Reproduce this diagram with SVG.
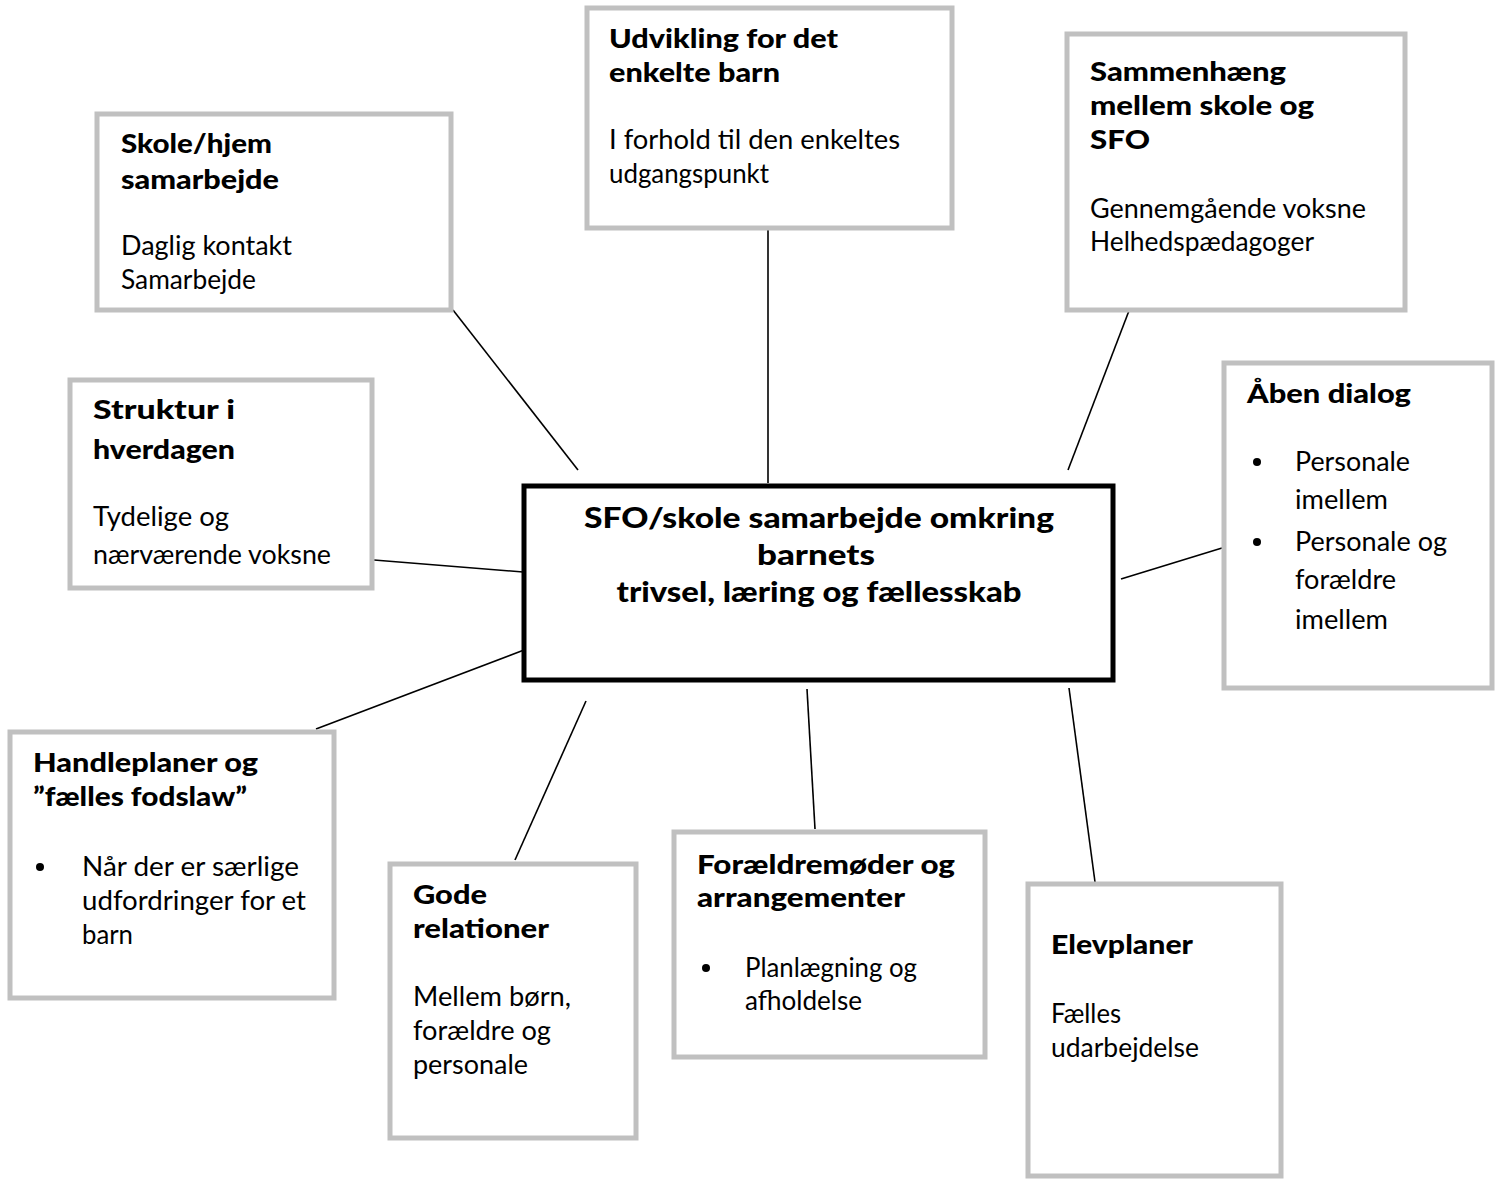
<svg xmlns="http://www.w3.org/2000/svg" width="1503" height="1180" viewBox="0 0 1503 1180">
<style>
.box{fill:#fff;stroke:#c0c0c0;stroke-width:5}
.main{fill:#fff;stroke:#000;stroke-width:5}
text{font-family:Lato,"Liberation Sans",sans-serif;font-size:27px;fill:#000}
.b{font-weight:900}
.c{text-anchor:middle;font-size:29px}
.conn line{stroke:#000;stroke-width:1.6}
</style>
<rect width="1503" height="1180" fill="#fff"/>
<g class="conn">
<line x1="453" y1="310" x2="578" y2="470"/>
<line x1="768" y1="230" x2="768" y2="483"/>
<line x1="1140" y1="282" x2="1068" y2="470"/>
<line x1="374" y1="560" x2="523" y2="572"/>
<line x1="1121" y1="579" x2="1222" y2="548"/>
<line x1="316" y1="729" x2="524" y2="650"/>
<line x1="515" y1="860" x2="586" y2="701"/>
<line x1="807" y1="689" x2="815" y2="829"/>
<line x1="1069" y1="688" x2="1095" y2="882"/>
</g>
<g id="center">
<rect class="main" x="524" y="486" width="589" height="194"/>
<text class="b c" x="819" y="528" textLength="470" lengthAdjust="spacingAndGlyphs">SFO/skole samarbejde omkring</text>
<text class="b c" x="816" y="565" textLength="118" lengthAdjust="spacingAndGlyphs">barnets</text>
<text class="b c" x="819" y="602" textLength="405" lengthAdjust="spacingAndGlyphs">trivsel, læring og fællesskab</text>
</g>
<g id="udvikling">
<rect class="box" x="587" y="8" width="365" height="220"/>
<text class="b" x="609" y="48" textLength="229" lengthAdjust="spacingAndGlyphs">Udvikling for det</text>
<text class="b" x="609" y="82" textLength="171" lengthAdjust="spacingAndGlyphs">enkelte barn</text>
<text x="609" y="149" textLength="291" lengthAdjust="spacingAndGlyphs">I forhold til den enkeltes</text>
<text x="609" y="183" textLength="160" lengthAdjust="spacingAndGlyphs">udgangspunkt</text>
</g>
<g id="skolehjem">
<rect class="box" x="97" y="114" width="354" height="196"/>
<text class="b" x="121" y="153" textLength="151" lengthAdjust="spacingAndGlyphs">Skole/hjem</text>
<text class="b" x="121" y="189" textLength="158" lengthAdjust="spacingAndGlyphs">samarbejde</text>
<text x="121" y="255" textLength="171" lengthAdjust="spacingAndGlyphs">Daglig kontakt</text>
<text x="121" y="289" textLength="135" lengthAdjust="spacingAndGlyphs">Samarbejde</text>
</g>
<g id="sammenhaeng">
<rect class="box" x="1067" y="34" width="338" height="276"/>
<text class="b" x="1090" y="81" textLength="196" lengthAdjust="spacingAndGlyphs">Sammenhæng</text>
<text class="b" x="1090" y="115" textLength="224" lengthAdjust="spacingAndGlyphs">mellem skole og</text>
<text class="b" x="1090" y="149" textLength="60" lengthAdjust="spacingAndGlyphs">SFO</text>
<text x="1090" y="218" textLength="276" lengthAdjust="spacingAndGlyphs">Gennemgående voksne</text>
<text x="1090" y="251" textLength="224" lengthAdjust="spacingAndGlyphs">Helhedspædagoger</text>
</g>
<g id="struktur">
<rect class="box" x="70" y="380" width="302" height="208"/>
<text class="b" x="93" y="419" textLength="142" lengthAdjust="spacingAndGlyphs">Struktur i</text>
<text class="b" x="93" y="459" textLength="142" lengthAdjust="spacingAndGlyphs">hverdagen</text>
<text x="93" y="526" textLength="136" lengthAdjust="spacingAndGlyphs">Tydelige og</text>
<text x="93" y="564" textLength="238" lengthAdjust="spacingAndGlyphs">nærværende voksne</text>
</g>
<g id="aaben">
<rect class="box" x="1224" y="363" width="268" height="325"/>
<text class="b" x="1247" y="403" textLength="164" lengthAdjust="spacingAndGlyphs">Åben dialog</text>
<circle cx="1257" cy="462" r="4"/>
<text x="1295" y="471" textLength="115" lengthAdjust="spacingAndGlyphs">Personale</text>
<text x="1295" y="509" textLength="93" lengthAdjust="spacingAndGlyphs">imellem</text>
<circle cx="1257" cy="542" r="4"/>
<text x="1295" y="551" textLength="152" lengthAdjust="spacingAndGlyphs">Personale og</text>
<text x="1295" y="589" textLength="101" lengthAdjust="spacingAndGlyphs">forældre</text>
<text x="1295" y="629" textLength="93" lengthAdjust="spacingAndGlyphs">imellem</text>
</g>
<g id="handleplaner">
<rect class="box" x="10" y="732" width="324" height="266"/>
<text class="b" x="33" y="772" textLength="225" lengthAdjust="spacingAndGlyphs">Handleplaner og</text>
<text class="b" x="33" y="806" textLength="214" lengthAdjust="spacingAndGlyphs">”fælles fodslaw”</text>
<circle cx="40" cy="867" r="4"/>
<text x="82" y="876" textLength="217" lengthAdjust="spacingAndGlyphs">Når der er særlige</text>
<text x="82" y="910" textLength="224" lengthAdjust="spacingAndGlyphs">udfordringer for et</text>
<text x="82" y="944" textLength="51" lengthAdjust="spacingAndGlyphs">barn</text>
</g>
<g id="gode">
<rect class="box" x="390" y="864" width="246" height="274"/>
<text class="b" x="413" y="904" textLength="74" lengthAdjust="spacingAndGlyphs">Gode</text>
<text class="b" x="413" y="938" textLength="136" lengthAdjust="spacingAndGlyphs">relationer</text>
<text x="413" y="1006" textLength="158" lengthAdjust="spacingAndGlyphs">Mellem børn,</text>
<text x="413" y="1040" textLength="138" lengthAdjust="spacingAndGlyphs">forældre og</text>
<text x="413" y="1074" textLength="115" lengthAdjust="spacingAndGlyphs">personale</text>
</g>
<g id="foraeldre">
<rect class="box" x="674" y="832" width="311" height="225"/>
<text class="b" x="697" y="874" textLength="258" lengthAdjust="spacingAndGlyphs">Forældremøder og</text>
<text class="b" x="697" y="907" textLength="208" lengthAdjust="spacingAndGlyphs">arrangementer</text>
<circle cx="706" cy="968" r="4"/>
<text x="745" y="977" textLength="172" lengthAdjust="spacingAndGlyphs">Planlægning og</text>
<text x="745" y="1010" textLength="117" lengthAdjust="spacingAndGlyphs">afholdelse</text>
</g>
<g id="elevplaner">
<rect class="box" x="1028" y="884" width="253" height="292"/>
<text class="b" x="1051" y="954" textLength="142" lengthAdjust="spacingAndGlyphs">Elevplaner</text>
<text x="1051" y="1023" textLength="70" lengthAdjust="spacingAndGlyphs">Fælles</text>
<text x="1051" y="1057" textLength="148" lengthAdjust="spacingAndGlyphs">udarbejdelse</text>
</g>
</svg>
